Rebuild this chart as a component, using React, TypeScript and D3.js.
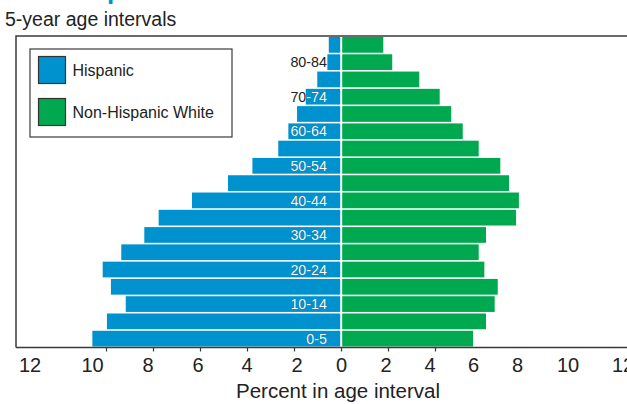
import { useEffect, useRef } from 'react';
import * as d3 from 'd3';

// age groups, youngest first (labels as printed in the chart)
const ageGroups = [
  '0-5', '5-9', '10-14', '15-19', '20-24', '25-29', '30-34', '35-39', '40-44',
  '45-49', '50-54', '55-59', '60-64', '65-69', '70-74', '75-79', '80-84', '85+',
];
const labelledGroups = ['0-5', '10-14', '20-24', '30-34', '40-44', '50-54', '60-64', '70-74', '80-84'];

// percent of each population in the age interval
const hispanic = [
  10.58, 9.96, 9.16, 9.79, 10.14, 9.35, 8.37, 7.76, 6.34,
  4.81, 3.77, 2.67, 2.24, 1.87, 1.5, 1.01, 0.58, 0.52,
];
const nonHispanicWhite = [
  5.62, 6.17, 6.54, 6.67, 6.1, 5.86, 6.17, 7.45, 7.57,
  7.15, 6.78, 5.86, 5.18, 4.69, 4.2, 3.33, 2.18, 1.8,
];
const axisLabels = [-12, -10, -8, -6, -4, -2, 0, 2, 4, 6, 8, 10, 12];
const axisTickMarks = [-10, -8, -6, -4, -2, 0, 2, 4];

const seriesNames = ['Hispanic', 'Non-Hispanic White'];
const BLUE = '#0092cf';
const GREEN = '#00a84f';
const FONT = '"Liberation Sans", Arial, Helvetica, sans-serif';

const App = () => {
  const svgRef = useRef<SVGSVGElement | null>(null);

  const width = 627;
  const height = 404;
  const frameLeft = 16;
  const frameTop = 36;
  const axisY = 347.5;

  useEffect(() => {
    const svgElement = svgRef.current;
    if (!svgElement) return;

    const svg = d3.select(svgElement);
    svg.selectAll('*').remove();

    const x = d3.scaleLinear().domain([-12, 12]).range([59, 623]);
    // the printed tick numbers sit a little off the tick marks, as in the original
    const xLabel = d3.scaleLinear()
      .domain(axisLabels)
      .range([30, 92.5, 148, 198, 247, 297, 341.5, 386, 430, 473.5, 517.5, 568, 623]);
    const y = d3.scaleBand<string>()
      .domain([...ageGroups].reverse())
      .range([37, 346.5])
      .paddingInner(0.09)
      .paddingOuter(0);

    const rows = ageGroups.map((age, i) => ({ age, hisp: hispanic[i], nhw: nonHispanicWhite[i] }));

    // cut-off blue heading glyph above the chart
    svg.append('text')
      .attr('x', 107)
      .attr('y', -1.5)
      .attr('font-family', FONT)
      .attr('font-weight', 'bold')
      .attr('font-size', 26)
      .attr('fill', BLUE)
      .text('p');

    svg.append('text')
      .attr('x', 5)
      .attr('y', 26)
      .attr('font-family', FONT)
      .attr('font-size', 19.5)
      .attr('fill', '#222')
      .text('5-year age intervals');

    // frame: top and left border
    svg.append('path')
      .attr('d', `M${width},${frameTop}H${frameLeft}V${axisY}`)
      .attr('fill', 'none')
      .attr('stroke', '#3a3a3a')
      .attr('stroke-width', 1.5);

    const defs = svg.append('defs');

    // Hispanic bars (left)
    svg.append('g')
      .selectAll('rect')
      .data(rows)
      .join('rect')
      .attr('x', d => x(-d.hisp))
      .attr('y', d => y(d.age)!)
      .attr('width', d => x(0) - 0.8 - x(-d.hisp))
      .attr('height', y.bandwidth())
      .attr('fill', BLUE);

    // Non-Hispanic White bars (right)
    svg.append('g')
      .selectAll('rect')
      .data(rows)
      .join('rect')
      .attr('x', x(0) + 1.2)
      .attr('y', d => y(d.age)!)
      .attr('width', d => x(d.nhw) - x(0) - 1.2)
      .attr('height', y.bandwidth())
      .attr('fill', GREEN);

    // age labels: dark outside the blue bar, white inside it
    const labelled = rows.filter(d => labelledGroups.includes(d.age));
    labelled.forEach((d, i) => {
      defs.append('clipPath')
        .attr('id', `bar-clip-${i}`)
        .append('rect')
        .attr('x', x(-d.hisp))
        .attr('y', y(d.age)!)
        .attr('width', x(0) - x(-d.hisp))
        .attr('height', y.bandwidth());
    });

    const labelG = svg.append('g')
      .attr('font-family', FONT)
      .attr('font-size', 14.3)
      .attr('text-anchor', 'end');

    labelled.forEach((d, i) => {
      const cy = y(d.age)! + y.bandwidth() / 2;
      labelG.append('text')
        .attr('x', 327)
        .attr('y', cy)
        .attr('dy', '0.36em')
        .attr('fill', '#222')
        .text(d.age);
      labelG.append('text')
        .attr('x', 327)
        .attr('y', cy)
        .attr('dy', '0.36em')
        .attr('fill', '#fff')
        .attr('clip-path', `url(#bar-clip-${i})`)
        .text(d.age);
    });

    // x axis: tick marks from the data scale
    const axis = svg.append('g')
      .attr('transform', `translate(0,${axisY})`)
      .call(
        d3.axisBottom(x)
          .tickValues(axisTickMarks)
          .tickFormat(() => '')
          .tickSize(4)
          .tickSizeOuter(0)
      );
    axis.select('.domain').remove();
    axis.selectAll('line').attr('stroke', '#3a3a3a').attr('stroke-width', 1.2);

    // tick numbers
    svg.append('g')
      .selectAll('text')
      .data(axisLabels)
      .join('text')
      .attr('x', d => xLabel(d))
      .attr('y', 371.5)
      .attr('text-anchor', 'middle')
      .attr('font-family', FONT)
      .attr('font-size', 20)
      .attr('fill', '#222')
      .text(d => String(Math.abs(d)));

    svg.append('line')
      .attr('x1', frameLeft)
      .attr('x2', width)
      .attr('y1', axisY)
      .attr('y2', axisY)
      .attr('stroke', '#3a3a3a')
      .attr('stroke-width', 1.5);

    svg.append('text')
      .attr('x', 338)
      .attr('y', 397.5)
      .attr('text-anchor', 'middle')
      .attr('font-family', FONT)
      .attr('font-size', 20.5)
      .attr('fill', '#222')
      .text('Percent in age interval');

    // legend
    const legend = svg.append('g');
    legend.append('rect')
      .attr('x', 30)
      .attr('y', 49)
      .attr('width', 202)
      .attr('height', 88)
      .attr('fill', '#fff')
      .attr('stroke', '#3a3a3a')
      .attr('stroke-width', 1.2);

    const legendY = d3.scalePoint<string>().domain(seriesNames).range([70, 112]);
    const legendColor = d3.scaleOrdinal<string, string>().domain(seriesNames).range([BLUE, GREEN]);

    seriesNames.forEach(name => {
      const cy = legendY(name)!;
      legend.append('rect')
        .attr('x', 38.5)
        .attr('y', cy - 13.5)
        .attr('width', 27)
        .attr('height', 27)
        .attr('fill', legendColor(name))
        .attr('stroke', '#333')
        .attr('stroke-width', 1.2);
      legend.append('text')
        .attr('x', 72.5)
        .attr('y', cy)
        .attr('dy', '0.36em')
        .attr('font-family', FONT)
        .attr('font-size', 16)
        .attr('fill', '#222')
        .text(name);
    });
  }, []);

  return (
    <svg
      ref={svgRef}
      width={width}
      height={height}
      style={{ position: 'absolute', left: 0, top: 0, display: 'block', background: '#fff' }}
    />
  );
};

export default App;
